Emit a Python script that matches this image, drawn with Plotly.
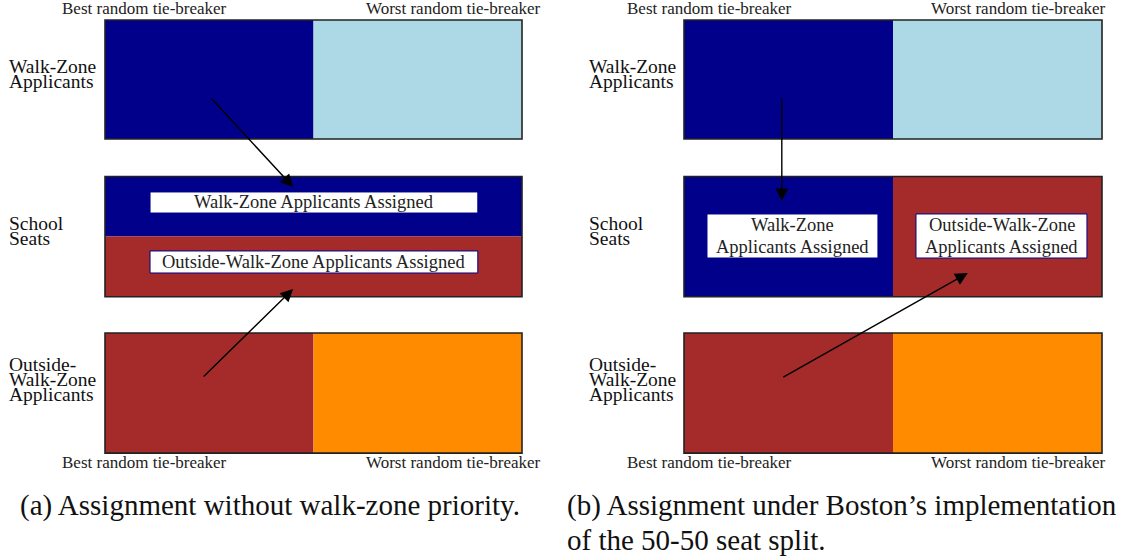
import plotly.graph_objects as go

# ---------------- data ----------------
row_labels = [["Walk-Zone", "Applicants"], ["School", "Seats"], ["Outside-", "Walk-Zone", "Applicants"]]
tie_labels = ["Best random tie-breaker", "Worst random tie-breaker"]
walk_colors = ["#00008B", "#ADD8E6"]      # best / worst walk-zone applicants
outside_colors = ["#A52A2A", "#FF8C00"]   # best / worst outside applicants
applicant_split = [0.5, 0.5]              # share of applicants above / below cutoff
seat_split = [0.5, 0.5]                   # walk-zone / outside seats
box_a = ["Walk-Zone Applicants Assigned", "Outside-Walk-Zone Applicants Assigned"]
box_b = [["Walk-Zone", "Applicants Assigned"], ["Outside-Walk-Zone", "Applicants Assigned"]]
captions = ["(a) Assignment without walk-zone priority.",
            "(b) Assignment under Boston\u2019s implementation", "of the 50-50 seat split."]

# ---------------- layout constants ----------------
FONT = "Liberation Serif"
W, H_FIG = 1127, 557
PITCH = 1.315            # vertical distance between rows (row height = 1)
row_top = [0, PITCH, 2 * PITCH]
H = [1.0, 1.01, 1.01]

def axis_range(d0, d1, a, b):
    p0, p1 = d0 * W, d1 * W
    s = b - a
    return [(p0 - a) / s, (p1 - a) / s]

shapes = []
ann = []

def rect(xr, x0, x1, y0, y1, fill, line=None, lw=0):
    shapes.append(dict(type="rect", xref=xr, yref="y", x0=x0, x1=x1, y0=y0, y1=y1,
                       fillcolor=fill, line=dict(color=line or fill, width=lw), layer="above"))

def text(xr, x, y, t, size, anchor="center", color="#222"):
    ann.append(dict(xref=xr, yref="y", x=x, y=y, text=t, showarrow=False, xanchor=anchor,
                    yanchor="middle", font=dict(family=FONT, size=size, color=color)))

def arrow(xr, x0, y0, x1, y1):
    ann.append(dict(xref=xr, yref="y", axref=xr, ayref="y", x=x1, y=y1, ax=x0, ay=y0,
                    text="", showarrow=True, arrowhead=2, arrowsize=1.8, arrowwidth=1.4,
                    arrowcolor="black", standoff=0, startstandoff=0))

label_centers = [0.454, 0.458, 0.391]
label_step = [0.126, 0.118, 0.122]

for p, xr in enumerate(["x", "x2"]):
    cut = applicant_split[0]
    rect(xr, 0, cut, row_top[0], row_top[0] + H[0], walk_colors[0])
    rect(xr, cut, 1, row_top[0], row_top[0] + H[0], walk_colors[1])
    rect(xr, 0, cut, row_top[2], row_top[2] + H[2], outside_colors[0])
    rect(xr, cut, 1, row_top[2], row_top[2] + H[2], outside_colors[1])
    s = seat_split[0]
    if p == 0:
        mid = row_top[1] + H[1] * s
        rect(xr, 0, 1, row_top[1], mid, walk_colors[0])
        rect(xr, 0, 1, mid, row_top[1] + H[1], outside_colors[0])
    else:
        rect(xr, 0, s, row_top[1], row_top[1] + H[1], walk_colors[0])
        rect(xr, s, 1, row_top[1], row_top[1] + H[1], outside_colors[0])
    for i in range(3):
        shapes.append(dict(type="rect", xref=xr, yref="y", x0=0, x1=1, y0=row_top[i],
                           y1=row_top[i] + H[i], line=dict(color="#222", width=1.6),
                           fillcolor="rgba(0,0,0,0)", layer="above"))
    lx = [-0.234, -0.232][p]
    for i, lines in enumerate(row_labels):
        n = len(lines)
        c = row_top[i] + label_centers[i]
        for k, ln in enumerate(lines):
            text(xr, lx, c + (k - (n - 1) / 2) * label_step[i], ln, 19.5, anchor="left", color="#111")
    bx = [0.095, 0.06][p]
    wx = [1.05, 1.014][p]
    for yy in (-0.1, 3.72):
        text(xr, bx, yy, tie_labels[0], 17)
        text(xr, wx, yy, tie_labels[1], 17, anchor="right")

# panel a boxes
rect("x", 0.108, 0.894, 1.445, 1.622, "white", "#00008B", 1)
rect("x", 0.108, 0.894, 1.941, 2.126, "white", "#00008B", 1)
text("x", 0.5, 1.53, box_a[0], 18.5)
text("x", 0.5, 2.035, box_a[1], 18.5)
# panel b boxes
rect("x2", 0.055, 0.464, 1.630, 2.0, "white", "#00008B", 1)
rect("x2", 0.555, 0.964, 1.630, 2.0, "white", "#00008B", 1)
for j, cx in enumerate([0.26, 0.76]):
    text("x2", cx, 1.725, box_b[j][0], 18.5)
    text("x2", cx, 1.91, box_b[j][1], 18.5)

# arrows
arrow("x", 0.252, 0.647, 0.451, 1.403)
arrow("x", 0.233, 3.008, 0.451, 2.26)
arrow("x2", 0.234, 0.647, 0.234, 1.521)
arrow("x2", 0.234, 3.008, 0.679, 2.126)

# captions
for t, xp, yp in [(captions[0], 18 / W, 1 - 505 / H_FIG),
                  (captions[1], 565 / W, 1 - 505 / H_FIG),
                  (captions[2], 565 / W, 1 - 540 / H_FIG)]:
    ann.append(dict(xref="paper", yref="paper", x=xp, y=yp, text=t, showarrow=False,
                    xanchor="left", yanchor="middle", font=dict(family=FONT, size=29, color="#111")))

ax_common = dict(visible=False, showgrid=False, zeroline=False, fixedrange=True)
fig = go.Figure()
fig.update_layout(
    width=W, height=H_FIG, margin=dict(l=0, r=0, t=0, b=0),
    paper_bgcolor="white", plot_bgcolor="white", showlegend=False,
    xaxis=dict(domain=[0, 0.5], range=axis_range(0, 0.5, 105, 522), **ax_common),
    xaxis2=dict(domain=[0.5, 1], range=axis_range(0.5, 1, 684, 1102), anchor="y", **ax_common),
    yaxis=dict(domain=[0, 1], range=[(H_FIG - 20) / 119, -20 / 119], **ax_common),
    shapes=shapes, annotations=ann,
)
fig.add_trace(go.Scatter(x=[0, 1], y=[0, 0], xaxis="x", yaxis="y", mode="markers",
                         marker=dict(opacity=0), hoverinfo="skip"))
fig.add_trace(go.Scatter(x=[0, 1], y=[0, 0], xaxis="x2", yaxis="y", mode="markers",
                         marker=dict(opacity=0), hoverinfo="skip"))
fig.write_html("out.html", config={"displayModeBar": False},
               post_script="document.body.style.margin='0';document.body.style.overflow='hidden';")
